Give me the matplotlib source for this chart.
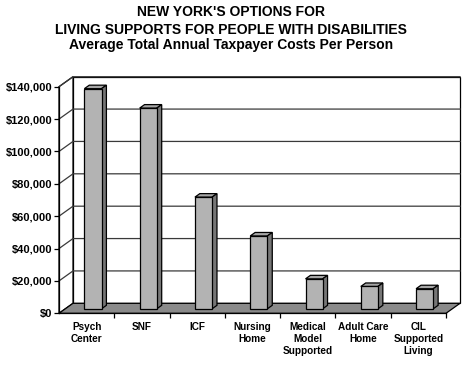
import matplotlib
matplotlib.use("Agg")
import matplotlib.pyplot as plt
from matplotlib.patches import Polygon

categories = ["Psych\nCenter", "SNF", "ICF", "Nursing\nHome",
              "Medical\nModel\nSupported", "Adult Care\nHome", "CIL\nSupported\nLiving"]
costs = [136000, 124000, 69000, 45000, 18500, 13800, 12400]
yticks = [0, 20000, 40000, 60000, 80000, 100000, 120000, 140000]
ytick_labels = ["$0", "$20,000", "$40,000", "$60,000", "$80,000",
                "$100,000", "$120,000", "$140,000"]
title_lines = ["NEW YORK'S OPTIONS FOR",
               "LIVING SUPPORTS FOR PEOPLE WITH DISABILITIES",
               "Average Total Annual Taxpayer Costs Per Person"]

plt.rcParams['font.family'] = ['Liberation Sans', 'DejaVu Sans']
plt.rcParams['font.weight'] = 'bold'

W, H = 470, 365
fig = plt.figure(figsize=(W / 100, H / 100), dpi=100)
fig.patch.set_facecolor('white')
ax = fig.add_axes([59 / W, (H - 313.3) / H, 387 / W, 226.6 / H])
n = len(categories)
ymax = yticks[-1]
ax.set_xlim(-0.5, n - 0.5)
ax.set_ylim(0, ymax)
ax.patch.set_alpha(0)

# depth offset (data units)
DX = 14 / (387 / n)
DY = 10 * ymax / 226.6
x0, x1 = -0.5, n - 0.5

def P(x, y, d):
    return (x + d * DX, y + d * DY)

def poly(pts, fc, ec='black', lw=0.9, z=1):
    ax.add_patch(Polygon(pts, closed=True, facecolor=fc, edgecolor=ec,
                         linewidth=lw, clip_on=False, zorder=z))

# back wall
poly([P(x0, 0, 1), P(x1, 0, 1), P(x1, ymax, 1), P(x0, ymax, 1)], 'white', z=0.5)
# left wall
poly([P(x0, 0, 0), P(x0, 0, 1), P(x0, ymax, 1), P(x0, ymax, 0)], 'white', z=0.5)
# gridlines
for t in yticks[1:]:
    a = P(x0, t, 0); b = P(x0, t, 1); c = P(x1, t, 1)
    ax.plot([a[0], b[0], c[0]], [a[1], b[1], c[1]], color='#3a3a3a', lw=0.9,
            clip_on=False, zorder=0.7)
# floor
poly([P(x0, 0, 0), P(x1, 0, 0), P(x1, 0, 1), P(x0, 0, 1)], '#8a8a8a', z=0.8)

# bars
w = 0.31
df, db = 0.45, 0.8
xs = list(range(n))
ax.bar([x + df * DX for x in xs], costs, width=w, bottom=df * DY,
       color='#b3b3b3', edgecolor='black', linewidth=0.9, zorder=3, clip_on=False)
for x, v in zip(xs, costs):
    l, r = x - w / 2, x + w / 2
    poly([P(l, v, df), P(r, v, df), P(r, v, db), P(l, v, db)], '#a6a6a6', z=2.9)
    poly([P(r, 0, df), P(r, v, df), P(r, v, db), P(r, 0, db)], '#767676', z=2.9)

# axes styling
for s in ['top', 'right']:
    ax.spines[s].set_visible(False)
ax.spines['left'].set_linewidth(0.9)
ax.spines['bottom'].set_linewidth(0.9)
ax.set_yticks(yticks)
ax.set_yticklabels(ytick_labels, fontsize=8, fontweight='bold')
ax.tick_params(axis='y', direction='out', length=3.6, width=0.9, pad=1.2)
ax.set_xticks(xs)
ax.set_xticklabels(categories, fontsize=7.2, fontweight='bold', linespacing=1.25)
ax.tick_params(axis='x', which='major', length=0, pad=6)
ax.set_xticks([x + 0.5 for x in xs], minor=True)
ax.tick_params(axis='x', which='minor', direction='out', length=3.6, width=0.9)

ys = [12.3, 29.5, 45.5]
for t, yy in zip(title_lines, ys):
    fig.text(231 / W, 1 - yy / H, t, ha='center', va='center', fontsize=10,
             fontweight='bold')

fig.savefig('out.png', dpi=100, facecolor='white')
